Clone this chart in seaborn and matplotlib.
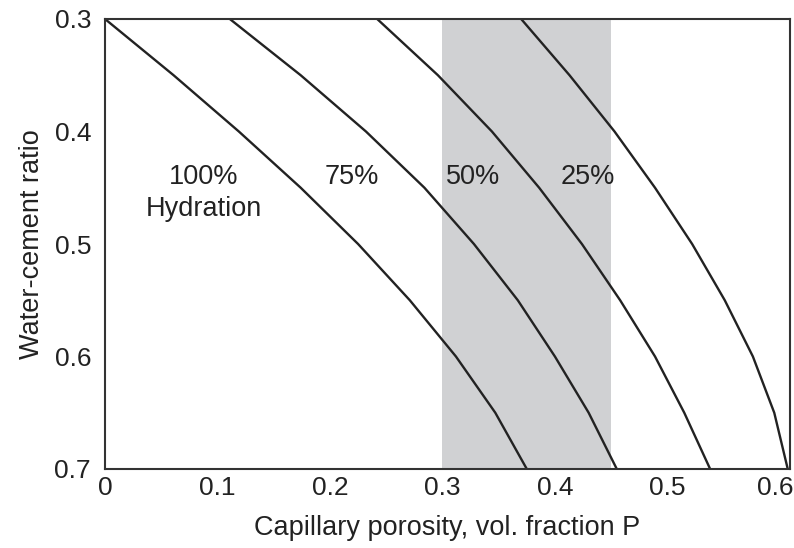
import matplotlib
matplotlib.use("Agg")
import matplotlib.pyplot as plt
import matplotlib.transforms as mtransforms
import seaborn as sns
import pandas as pd

# water-cement ratio (y) and capillary porosity readings (x) for each hydration degree
wc = [0.30, 0.35, 0.40, 0.45, 0.50, 0.55, 0.60, 0.65, 0.70]
p_100 = [0.000, 0.061, 0.119, 0.174, 0.225, 0.271, 0.312, 0.347, 0.375]
p_75 = [0.111, 0.174, 0.232, 0.284, 0.328, 0.367, 0.400, 0.430, 0.455]
p_50 = [0.242, 0.296, 0.344, 0.386, 0.424, 0.458, 0.489, 0.515, 0.538]
p_25 = [0.370, 0.413, 0.453, 0.489, 0.522, 0.551, 0.576, 0.595, 0.607]
series_names = ["100%", "75%", "50%", "25%"]
band = [0.30, 0.45]
x_ticks = [0, 0.1, 0.2, 0.3, 0.4, 0.5, 0.6]
x_tick_labels = ["0", "0.1", "0.2", "0.3", "0.4", "0.5", "0.6"]
y_ticks = [0.3, 0.4, 0.5, 0.6, 0.7]
y_tick_labels = ["0.3", "0.4", "0.5", "0.6", "0.7"]

rows = []
for name, vals in zip(series_names, [p_100, p_75, p_50, p_25]):
    for w, p in zip(wc, vals):
        rows.append({"series": name, "wc": w, "P": p})
df = pd.DataFrame(rows)

sns.set_style("white")
plt.rcParams["font.family"] = ["Liberation Sans", "DejaVu Sans"]

fig = plt.figure(figsize=(7.94, 5.48), dpi=100)
ax = fig.add_axes([105 / 794, 1 - 469 / 548, 685 / 794, 450 / 548])

ax.axvspan(band[0], band[1], color="#d0d1d3", lw=0, zorder=0)

sns.lineplot(data=df, x="P", y="wc", units="series", estimator=None, sort=False,
             color="#222222", lw=1.7, ax=ax, legend=False)

ax.set_xlim(0, 0.609)
ax.set_ylim(0.7, 0.3)
ax.set_xticks(x_ticks)
ax.set_xticklabels(x_tick_labels)
ax.set_yticks(y_ticks)
ax.set_yticklabels(y_tick_labels)
ax.tick_params(direction="in", length=14, width=1.3, color="#333333",
               labelsize=19, labelcolor="#222222")
ax.tick_params(axis="y", pad=10)
ax.tick_params(axis="x", pad=5)

# nudge the last x tick label so it stays inside the figure, as in the reference
last = ax.get_xticklabels()[-1]
last.set_transform(last.get_transform() + mtransforms.ScaledTranslation(-5 / 100, 0, fig.dpi_scale_trans))

for s in ax.spines.values():
    s.set_visible(True)
    s.set_color("#333333")
    s.set_linewidth(1.5)

ax.set_xlabel("Capillary porosity, vol. fraction P", fontsize=19.5, color="#222222", labelpad=11)
ax.set_ylabel("Water-cement ratio", fontsize=19.5, color="#222222", labelpad=7)

txt_kw = dict(fontsize=19.5, color="#222222", ha="center", va="center")
ax.text(0.088, 0.440, "100%", **txt_kw)
ax.text(0.088, 0.469, "Hydration", **txt_kw)
ax.text(0.219, 0.440, "75%", **txt_kw)
ax.text(0.327, 0.440, "50%", **txt_kw)
ax.text(0.429, 0.440, "25%", **txt_kw)

fig.savefig("out.png", dpi=100)
